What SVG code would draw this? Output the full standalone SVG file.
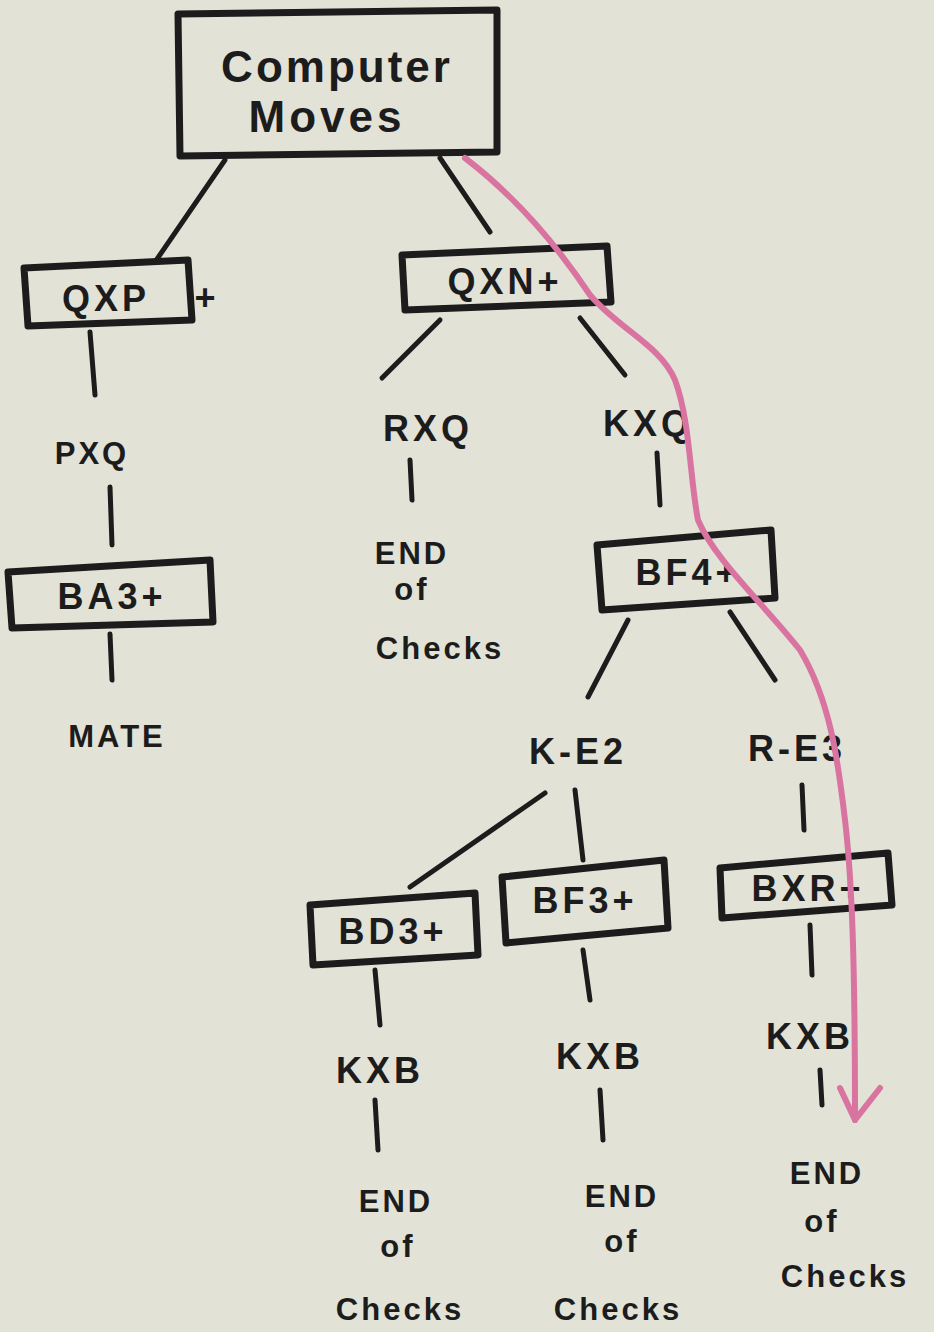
<svg xmlns="http://www.w3.org/2000/svg" width="934" height="1332" viewBox="0 0 934 1332">
<style>
.t{font-family:"Liberation Sans","DejaVu Sans",sans-serif;font-weight:bold;fill:#1c1c1c;text-anchor:middle}
.m{font-size:36px;letter-spacing:4px}
.s{font-size:31px;letter-spacing:3px}
.box{fill:none;stroke:#1c1c1c;stroke-width:7;stroke-linejoin:round}
.ln{fill:none;stroke:#1c1c1c;stroke-width:5;stroke-linecap:round}
.pk{fill:none;stroke:#d9739f;stroke-width:6;stroke-linecap:round;stroke-linejoin:round}
</style>
<rect width="934" height="1332" fill="#e3e2d7"/>
<g id="connectors">
<path class="ln" d="M225 160 L155 262"/>
<path class="ln" d="M440 158 L490 232"/>
<path class="ln" d="M90 332 L95 395"/>
<path class="ln" d="M110 487 L112 545"/>
<path class="ln" d="M110 634 L112 680"/>
<path class="ln" d="M440 320 L382 378"/>
<path class="ln" d="M580 318 L625 375"/>
<path class="ln" d="M410 460 L412 500"/>
<path class="ln" d="M657 453 L660 505"/>
<path class="ln" d="M628 620 L588 697"/>
<path class="ln" d="M730 612 L775 680"/>
<path class="ln" d="M545 793 L410 887"/>
<path class="ln" d="M575 790 L583 860"/>
<path class="ln" d="M802 785 L804 830"/>
<path class="ln" d="M375 970 L380 1025"/>
<path class="ln" d="M583 950 L590 1000"/>
<path class="ln" d="M810 925 L812 975"/>
<path class="ln" d="M375 1100 L378 1150"/>
<path class="ln" d="M600 1090 L603 1140"/>
<path class="ln" d="M820 1070 L822 1105"/>
</g>
<g id="root"><path class="box" d="M178 14 L497 10 L497 152 L180 156 Z"/><text class="t" x="337" y="82" font-size="44" letter-spacing="3">Computer</text><text class="t" x="327" y="132" font-size="44" letter-spacing="4">Moves</text></g>
<g id="qxp"><path class="box" d="M24 268 L188 260 L192 320 L28 326 Z"/><text class="t m" x="106" y="311">QXP</text><text class="t m" x="207" y="310">+</text></g>
<g id="qxn"><path class="box" d="M402 255 L607 246 L611 302 L405 310 Z"/><text class="t m" x="505" y="294">QXN+</text></g>
<g id="pxq"><text class="t s" x="92" y="464">PXQ</text></g>
<g id="ba3"><path class="box" d="M8 572 L210 560 L213 622 L12 628 Z"/><text class="t m" x="112" y="609">BA3+</text></g>
<g id="mate"><text class="t s" x="117" y="747">MATE</text></g>
<g id="rxq"><text class="t m" x="428" y="441">RXQ</text></g>
<g id="end1"><text class="t s" x="412" y="564">END</text><text class="t s" x="412" y="600">of</text><text class="t s" x="440" y="659">Checks</text></g>
<g id="kxq"><text class="t m" x="648" y="436">KXQ</text></g>
<g id="bf4"><path class="box" d="M597 545 L771 530 L775 598 L602 610 Z"/><text class="t m" x="688" y="585">BF4+</text></g>
<g id="ke2"><text class="t m" x="578" y="764">K-E2</text></g>
<g id="re3"><text class="t m" x="797" y="761">R-E3</text></g>
<g id="bd3"><path class="box" d="M310 905 L475 893 L478 955 L313 965 Z"/><text class="t m" x="393" y="944">BD3+</text></g>
<g id="bf3"><path class="box" d="M502 877 L664 860 L668 928 L506 943 Z"/><text class="t m" x="585" y="913">BF3+</text></g>
<g id="bxr"><path class="box" d="M720 868 L888 853 L892 905 L722 918 Z"/><text class="t m" x="808" y="901">BXR+</text></g>
<g id="kxb1"><text class="t m" x="380" y="1083">KXB</text></g>
<g id="kxb2"><text class="t m" x="600" y="1069">KXB</text></g>
<g id="kxb3"><text class="t m" x="810" y="1049">KXB</text></g>
<g id="end2"><text class="t s" x="396" y="1212">END</text><text class="t s" x="398" y="1257">of</text><text class="t s" x="400" y="1320">Checks</text></g>
<g id="end3"><text class="t s" x="622" y="1207">END</text><text class="t s" x="622" y="1252">of</text><text class="t s" x="618" y="1320">Checks</text></g>
<g id="end4"><text class="t s" x="827" y="1184">END</text><text class="t s" x="822" y="1232">of</text><text class="t s" x="845" y="1287">Checks</text></g>
<g id="path-arrow">
<path class="pk" d="M465 158 C520 200 560 250 590 295 C620 330 660 345 675 380 C690 420 690 480 698 520 C715 560 760 600 800 650 C830 700 838 760 845 820 C852 880 855 960 855 1120"/>
<path class="pk" d="M840 1088 L855 1120 L880 1088"/>
</g>
</svg>
